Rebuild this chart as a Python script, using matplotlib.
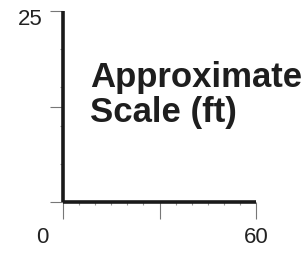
import matplotlib
matplotlib.use('Agg')
import matplotlib.pyplot as plt
import matplotlib.transforms as mtransforms
import numpy as np

# scale bar extents (ft)
x_ticks = [0, 30, 60]
x_labels = ['0', '', '60']
y_ticks = [0, 12.5, 25]
y_labels = ['', '', '25']
x_minor = [5, 10, 15, 20, 25, 35, 40, 45, 50, 55]
y_minor = [5, 10, 15, 20]
title = 'Approximate\nScale (ft)'

plt.rcParams['font.family'] = ['Liberation Sans', 'DejaVu Sans']

fig = plt.figure(figsize=(3.08, 2.55), dpi=100)
ax = fig.add_axes([63/308, 52/255, 193/308, 191/255])
ax.set_xlim(0, 60)
ax.set_ylim(0, 25)

for s in ['top', 'right']:
    ax.spines[s].set_visible(False)
for s in ['left', 'bottom']:
    ax.spines[s].set_linewidth(2.6)
    ax.spines[s].set_color('#1a1a1a')
    ax.spines[s].set_capstyle('butt')

ax.set_xticks(x_ticks)
ax.set_xticklabels(x_labels)
ax.set_yticks(y_ticks)
ax.set_yticklabels(y_labels)
ax.set_xticks(x_minor, minor=True)
ax.set_yticks(y_minor, minor=True)

ax.tick_params(axis='x', which='major', direction='out', length=12, width=0.8,
               color='#777777', pad=5, labelsize=16, labelcolor='#222222')
ax.tick_params(axis='y', which='major', direction='out', length=9.5, width=0.8,
               color='#777777', pad=5, labelsize=16, labelcolor='#222222')
ax.tick_params(which='minor', direction='out', length=2, width=0.8, color='#999999')

# the "0" label sits left of its tick in the original
lab0 = ax.get_xticklabels()[0]
lab0.set_transform(lab0.get_transform() + mtransforms.ScaledTranslation(-21/100, 0, fig.dpi_scale_trans))
# the "25" label sits a bit below its tick
lab25 = ax.get_yticklabels()[2]
lab25.set_transform(lab25.get_transform() + mtransforms.ScaledTranslation(0, -5/100, fig.dpi_scale_trans))

fig.text(90/308, 1 - 95/255, title, fontsize=25, fontweight='bold',
         color='#1e1e1e', linespacing=1.05, va='center', ha='left')

fig.savefig('out.png', dpi=100)
